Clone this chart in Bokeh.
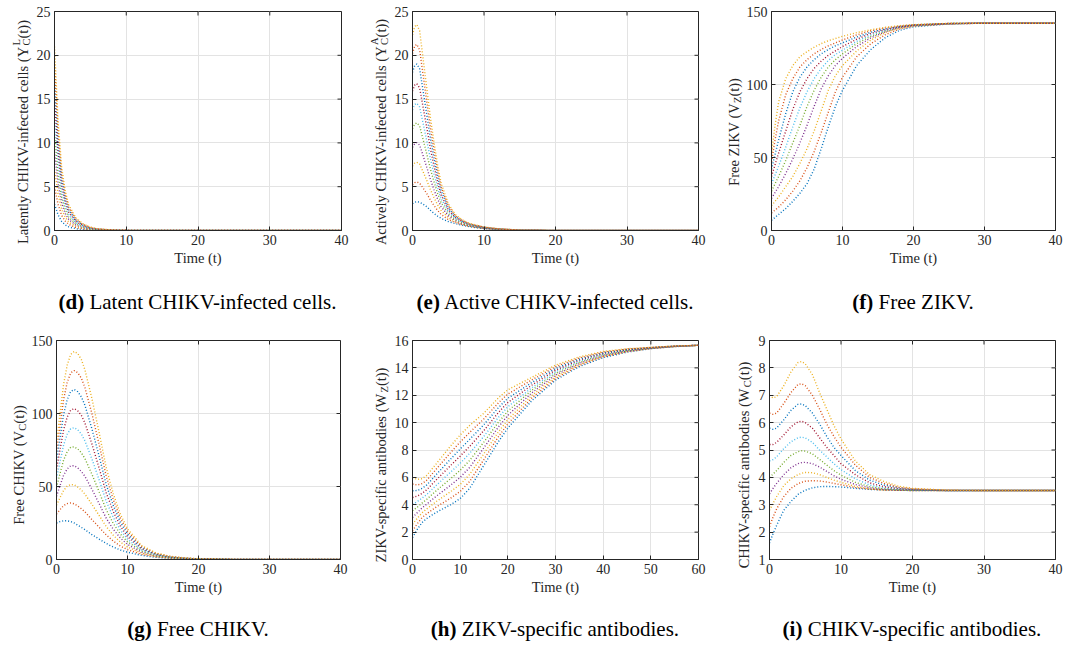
import math
from bokeh.plotting import figure
from bokeh.models import Range1d, FixedTicker, Div
from bokeh.layouts import column, row
from bokeh.core.properties import value
from bokeh.embed import file_html
from bokeh.resources import INLINE

COLORS = ["#0072BD", "#D95319", "#EDB120", "#7E2F8E", "#77AC30",
          "#4DBEEE", "#A2142F", "#0072BD", "#D95319", "#EDB120"]

# ---------------- data ----------------
# (d) latently CHIKV-infected cells
t_d = [0, 0.5, 1, 1.5, 2, 3, 4, 5, 6, 8, 10, 20, 30, 40]
latent = [
    [3, 1.79, 1.03, 0.64, 0.41, 0.20, 0.11, 0.05, 0.03, 0.01, 0, 0, 0, 0],
    [5, 2.98, 1.72, 1.07, 0.69, 0.34, 0.18, 0.09, 0.05, 0.02, 0.01, 0, 0, 0],
    [7, 4.17, 2.40, 1.50, 0.97, 0.47, 0.25, 0.13, 0.07, 0.02, 0.01, 0, 0, 0],
    [9, 5.36, 3.09, 1.93, 1.24, 0.60, 0.32, 0.16, 0.09, 0.03, 0.01, 0, 0, 0],
    [11, 6.55, 3.77, 2.35, 1.52, 0.74, 0.40, 0.20, 0.10, 0.03, 0.01, 0, 0, 0],
    [13, 7.74, 4.46, 2.78, 1.79, 0.87, 0.47, 0.23, 0.12, 0.04, 0.01, 0, 0, 0],
    [15, 8.93, 5.15, 3.21, 2.07, 1.01, 0.54, 0.27, 0.14, 0.05, 0.02, 0, 0, 0],
    [17, 10.1, 5.83, 3.64, 2.35, 1.14, 0.61, 0.31, 0.16, 0.05, 0.02, 0, 0, 0],
    [19, 11.3, 6.52, 4.07, 2.62, 1.27, 0.68, 0.34, 0.18, 0.06, 0.02, 0, 0, 0],
    [21, 12.5, 7.20, 4.49, 2.90, 1.41, 0.76, 0.38, 0.20, 0.06, 0.02, 0, 0, 0],
]

# (e) actively CHIKV-infected cells
t_e = [0, 0.3, 0.6, 1, 1.5, 2, 2.5, 3, 3.5, 4, 5, 6, 7, 8, 10, 12, 15, 20, 30, 40]
active = [
    [3.07, 3.23, 3.3, 3.23, 3.0, 2.71, 2.31, 1.95, 1.65, 1.39, 1.02, 0.79, 0.59, 0.43, 0.21, 0.1, 0.03, 0.01, 0, 0],
    [5.21, 5.46, 5.54, 5.4, 4.83, 4.21, 3.49, 2.86, 2.3, 1.84, 1.25, 0.9, 0.66, 0.47, 0.23, 0.11, 0.03, 0.01, 0, 0],
    [7.35, 7.68, 7.79, 7.58, 6.67, 5.71, 4.67, 3.76, 2.95, 2.28, 1.47, 1.02, 0.73, 0.51, 0.25, 0.12, 0.03, 0.01, 0, 0],
    [9.49, 9.91, 10.03, 9.75, 8.5, 7.21, 5.85, 4.67, 3.61, 2.73, 1.7, 1.13, 0.79, 0.55, 0.27, 0.13, 0.04, 0.01, 0, 0],
    [11.63, 12.14, 12.28, 11.93, 10.34, 8.71, 7.03, 5.58, 4.26, 3.18, 1.93, 1.24, 0.86, 0.59, 0.29, 0.14, 0.04, 0.01, 0, 0],
    [13.77, 14.37, 14.52, 14.1, 12.17, 10.22, 8.21, 6.49, 4.91, 3.63, 2.16, 1.36, 0.93, 0.64, 0.31, 0.16, 0.04, 0.01, 0, 0],
    [15.91, 16.59, 16.76, 16.27, 14.0, 11.72, 9.39, 7.39, 5.56, 4.07, 2.38, 1.47, 1.0, 0.68, 0.34, 0.17, 0.04, 0.01, 0, 0],
    [18.05, 18.82, 19.01, 18.45, 15.84, 13.22, 10.57, 8.3, 6.21, 4.52, 2.61, 1.58, 1.07, 0.72, 0.36, 0.18, 0.05, 0.01, 0, 0],
    [20.19, 21.05, 21.25, 20.62, 17.67, 14.72, 11.75, 9.21, 6.87, 4.97, 2.84, 1.69, 1.13, 0.76, 0.38, 0.19, 0.05, 0.01, 0, 0],
    [22.33, 23.27, 23.5, 22.8, 19.51, 16.22, 12.93, 10.11, 7.52, 5.41, 3.06, 1.81, 1.2, 0.8, 0.4, 0.2, 0.05, 0.01, 0, 0],
]

# (f) free ZIKV
t_f = [0, 0.5, 1, 2, 3, 4, 5, 6, 7, 8, 9, 10, 12, 14, 16, 18, 20, 25, 30, 40]
zikv = [
    [7, 9, 11, 15, 20, 25.5, 32, 42, 56, 71, 85, 96, 113, 124, 132, 137, 139.5, 141.5, 142, 142],
    [12, 14, 16, 21, 27, 34, 43, 54, 67, 81, 95, 105, 119, 128, 134, 138, 140, 141.5, 142, 142],
    [17, 20, 23, 30, 37, 46, 56, 68, 82, 96, 106, 113, 123, 130.5, 135.5, 138.5, 140.2, 141.6, 142, 142],
    [22, 26, 30, 39, 49, 60, 72, 85, 97, 106, 113, 118, 126, 132, 136, 139, 140.4, 141.6, 142, 142],
    [27, 32, 37, 48, 60, 72, 85, 96, 105, 112, 117, 121, 128, 133, 136.5, 139.2, 140.5, 141.7, 142, 142],
    [32, 38, 44, 57, 71, 84, 95, 104, 111, 116.5, 120.5, 123.5, 129.5, 134, 137, 139.4, 140.6, 141.7, 142, 142],
    [37, 45, 53, 68, 83, 95, 104, 111, 116, 120, 123, 126, 131, 135, 137.5, 139.6, 140.7, 141.8, 142, 142],
    [42, 52, 62, 80, 95, 105, 112, 117, 121, 124, 126.5, 128.5, 132.5, 135.8, 138, 139.8, 140.8, 141.8, 142, 142],
    [47, 62, 75, 93, 104, 112, 117, 121, 124, 126.5, 128.5, 130.5, 134, 136.8, 138.7, 140, 140.9, 141.8, 142, 142],
    [52, 72, 88, 104, 113, 119, 122.5, 125.5, 128, 130, 131.5, 133, 135.5, 137.5, 139.2, 140.3, 141, 141.9, 142, 142],
]

# (g) free CHIKV
t_g = [0, 0.5, 1, 1.5, 2, 2.5, 3, 3.5, 4, 5, 6, 7, 8, 9, 10, 12, 14, 16, 18, 20, 25, 30, 40]
chikv = [
    [25, 26, 26.5, 26.5, 26, 25, 23.5, 22, 20.5, 17, 14, 11, 8.5, 6.5, 5, 2.8, 1.5, 0.8, 0.4, 0.2, 0.03, 0, 0],
    [31.1, 34.2, 36.9, 38.3, 38.7, 38.1, 36.6, 34.8, 32.7, 27.3, 22.1, 16.8, 12.6, 9.2, 6.8, 3.5, 1.8, 0.96, 0.48, 0.23, 0.04, 0, 0],
    [37.2, 42.4, 47.3, 50.2, 51.4, 51.1, 49.6, 47.6, 44.8, 37.7, 30.2, 22.6, 16.6, 11.9, 8.6, 4.3, 2.2, 1.1, 0.56, 0.27, 0.05, 0, 0],
    [43.3, 50.7, 57.7, 62.0, 64.2, 64.2, 62.7, 60.3, 57.0, 48.0, 38.3, 28.3, 20.7, 14.7, 10.3, 5.0, 2.5, 1.27, 0.63, 0.3, 0.05, 0, 0],
    [49.4, 58.9, 68.1, 73.8, 76.9, 77.2, 75.7, 73.1, 69.2, 58.3, 46.4, 34.1, 24.7, 17.4, 12.1, 5.8, 2.8, 1.42, 0.71, 0.33, 0.06, 0, 0],
    [55.6, 67.1, 78.4, 85.7, 89.6, 90.3, 88.8, 85.9, 81.3, 68.7, 54.6, 39.9, 28.8, 20.1, 13.9, 6.5, 3.2, 1.58, 0.79, 0.37, 0.07, 0, 0],
    [61.7, 75.3, 88.8, 97.5, 102.3, 103.3, 101.8, 98.7, 93.5, 79.0, 62.7, 45.7, 32.8, 22.8, 15.7, 7.3, 3.5, 1.73, 0.87, 0.4, 0.08, 0, 0],
    [67.8, 83.6, 99.2, 109.3, 115.1, 116.4, 114.9, 111.4, 105.7, 89.3, 70.8, 51.4, 36.9, 25.6, 17.4, 8.0, 3.8, 1.89, 0.94, 0.43, 0.09, 0, 0],
    [73.9, 91.8, 109.6, 121.2, 127.8, 129.4, 127.9, 124.2, 117.8, 99.7, 78.9, 57.2, 40.9, 28.3, 19.2, 8.8, 4.2, 2.04, 1.02, 0.47, 0.09, 0, 0],
    [80, 100, 120, 133, 140.5, 142.5, 141, 137, 130, 110, 87, 63, 45, 31, 21, 9.5, 4.5, 2.2, 1.1, 0.5, 0.1, 0, 0],
]

# (h) ZIKV-specific antibodies
t_h = [0, 1, 2, 3, 5, 8, 10, 12, 15, 18, 20, 25, 30, 35, 40, 45, 50, 55, 60]
ab_zikv = [
    [1.6, 2.2, 2.7, 3.0, 3.45, 4.0, 4.45, 5.2, 6.9, 8.6, 9.6, 11.6, 13.1, 14.1, 14.75, 15.15, 15.4, 15.55, 15.65],
    [2.09, 2.61, 3.06, 3.35, 3.84, 4.48, 4.97, 5.71, 7.32, 8.96, 9.91, 11.79, 13.22, 14.18, 14.8, 15.18, 15.41, 15.56, 15.65],
    [2.58, 3.01, 3.41, 3.7, 4.24, 4.96, 5.48, 6.22, 7.74, 9.31, 10.22, 11.98, 13.34, 14.26, 14.85, 15.21, 15.42, 15.56, 15.65],
    [3.07, 3.42, 3.77, 4.05, 4.63, 5.43, 6.0, 6.73, 8.17, 9.67, 10.53, 12.17, 13.47, 14.33, 14.9, 15.23, 15.43, 15.57, 15.65],
    [3.56, 3.82, 4.12, 4.4, 5.03, 5.91, 6.52, 7.24, 8.59, 10.02, 10.84, 12.36, 13.59, 14.41, 14.95, 15.26, 15.44, 15.57, 15.65],
    [4.04, 4.23, 4.48, 4.75, 5.42, 6.39, 7.03, 7.76, 9.01, 10.38, 11.16, 12.54, 13.71, 14.49, 15.0, 15.29, 15.46, 15.58, 15.65],
    [4.53, 4.63, 4.83, 5.1, 5.82, 6.87, 7.55, 8.27, 9.43, 10.73, 11.47, 12.73, 13.83, 14.57, 15.05, 15.32, 15.47, 15.58, 15.65],
    [5.02, 5.04, 5.19, 5.45, 6.21, 7.34, 8.07, 8.78, 9.86, 11.09, 11.78, 12.92, 13.96, 14.64, 15.1, 15.34, 15.48, 15.59, 15.65],
    [5.51, 5.44, 5.54, 5.8, 6.61, 7.82, 8.58, 9.29, 10.28, 11.44, 12.09, 13.11, 14.08, 14.72, 15.15, 15.37, 15.49, 15.59, 15.65],
    [6.0, 5.85, 5.9, 6.15, 7.0, 8.3, 9.1, 9.8, 10.7, 11.8, 12.4, 13.3, 14.2, 14.8, 15.2, 15.4, 15.5, 15.6, 15.65],
]

# (i) CHIKV-specific antibodies
t_i = [0, 0.5, 1, 2, 3, 4, 4.5, 5, 6, 7, 8, 9, 10, 12, 14, 16, 18, 20, 25, 30, 40]
ab_chikv = [
    [1.6, 1.95, 2.25, 2.8, 3.12, 3.38, 3.46, 3.53, 3.62, 3.66, 3.67, 3.66, 3.65, 3.6, 3.56, 3.54, 3.53, 3.52, 3.52, 3.52, 3.52],
    [2.2, 2.55, 2.85, 3.3, 3.6, 3.77, 3.82, 3.86, 3.88, 3.87, 3.83, 3.78, 3.73, 3.63, 3.57, 3.54, 3.53, 3.52, 3.52, 3.52, 3.52],
    [2.8, 3.05, 3.3, 3.7, 3.95, 4.1, 4.15, 4.18, 4.17, 4.1, 4.0, 3.9, 3.82, 3.67, 3.58, 3.54, 3.53, 3.52, 3.52, 3.52, 3.52],
    [3.4, 3.6, 3.78, 4.1, 4.35, 4.5, 4.54, 4.55, 4.5, 4.38, 4.22, 4.06, 3.93, 3.74, 3.62, 3.56, 3.54, 3.53, 3.52, 3.52, 3.52],
    [4.0, 4.12, 4.25, 4.55, 4.8, 4.94, 4.97, 4.96, 4.86, 4.66, 4.45, 4.25, 4.08, 3.82, 3.66, 3.58, 3.55, 3.53, 3.52, 3.52, 3.52],
    [4.6, 4.65, 4.75, 5.05, 5.3, 5.45, 5.47, 5.44, 5.28, 5.0, 4.75, 4.5, 4.28, 3.95, 3.72, 3.62, 3.57, 3.54, 3.52, 3.52, 3.52],
    [5.2, 5.2, 5.28, 5.55, 5.85, 6.03, 6.05, 6.0, 5.8, 5.45, 5.1, 4.8, 4.5, 4.1, 3.8, 3.66, 3.59, 3.55, 3.52, 3.52, 3.52],
    [5.8, 5.75, 5.8, 6.1, 6.45, 6.67, 6.68, 6.62, 6.35, 5.95, 5.5, 5.1, 4.8, 4.25, 3.9, 3.72, 3.62, 3.56, 3.52, 3.52, 3.52],
    [6.35, 6.3, 6.35, 6.7, 7.1, 7.4, 7.42, 7.35, 7.0, 6.5, 5.95, 5.5, 5.1, 4.45, 4.0, 3.78, 3.64, 3.58, 3.53, 3.52, 3.52],
    [7.0, 6.9, 6.95, 7.35, 7.85, 8.2, 8.23, 8.15, 7.75, 7.1, 6.5, 5.9, 5.4, 4.6, 4.1, 3.85, 3.68, 3.6, 3.53, 3.52, 3.52],
]

x_ticks_40 = [0, 10, 20, 30, 40]
x_ticks_60 = [0, 10, 20, 30, 40, 50, 60]
y_ticks_25 = [0, 5, 10, 15, 20, 25]
y_ticks_150 = [0, 50, 100, 150]
y_ticks_16 = [0, 2, 4, 6, 8, 10, 12, 14, 16]
y_ticks_9 = [1, 2, 3, 4, 5, 6, 7, 8, 9]

# ---------------- styling helpers ----------------
FONT = "Liberation Serif"
TXT = "#262626"
AX = "#262626"
TICK_SIZE = "14px"
LAB_SIZE = 14.5
SMALL_SIZE = 10.5
TICK_LEN = 4
CELL_W = 355

CW = {' ': 250, '(': 333, ')': 333, '-': 333, '.': 250,
      'A': 722, 'C': 667, 'F': 556, 'H': 722, 'I': 333, 'K': 722, 'L': 611,
      'T': 611, 'V': 722, 'W': 944, 'Y': 722, 'Z': 611,
      'a': 444, 'b': 500, 'c': 444, 'd': 500, 'e': 444, 'f': 333, 'i': 278,
      'l': 278, 'm': 778, 'n': 500, 'o': 500, 'p': 500, 'r': 333, 's': 389,
      't': 278, 'v': 500, 'y': 500}


def tw(s, size):
    return sum(CW.get(ch, 500) for ch in s) * size / 1000.0


def make_fig(xr, yr, xt, yt, width, height, lb, rb, tb, bb, fw, fh):
    p = figure(x_range=Range1d(*xr), y_range=Range1d(*yr),
               width=width, height=height,
               min_border_left=lb, min_border_right=rb,
               min_border_top=tb, min_border_bottom=bb,
               output_backend="svg", toolbar_location=None,
               background_fill_color="white", border_fill_color="white")
    p.outline_line_color = AX
    p.outline_line_width = 1
    p.xaxis.ticker = FixedTicker(ticks=xt)
    p.yaxis.ticker = FixedTicker(ticks=yt)
    for ax in (p.xaxis[0], p.yaxis[0]):
        ax.major_tick_in = TICK_LEN
        ax.major_tick_out = 0
        ax.minor_tick_in = 0
        ax.minor_tick_out = 0
        ax.axis_line_color = AX
        ax.major_tick_line_color = AX
        ax.major_label_text_font = FONT
        ax.major_label_text_font_size = TICK_SIZE
        ax.major_label_text_color = TXT
        ax.major_label_standoff = 4
    p.xaxis.axis_label = "Time (t)"
    p.xaxis.axis_label_text_font = FONT
    p.xaxis.axis_label_text_font_style = "normal"
    p.xaxis.axis_label_text_font_size = f"{LAB_SIZE}px"
    p.xaxis.axis_label_text_color = TXT
    p.xaxis.axis_label_standoff = 2
    p.grid.grid_line_color = "#e3e3e3"
    p.grid.grid_line_width = 1
    p.xgrid.ticker = FixedTicker(ticks=xt)
    p.ygrid.ticker = FixedTicker(ticks=yt)
    # inward ticks on the top and right edges of the box
    kx = (xr[1] - xr[0]) / fw
    ky = (yr[1] - yr[0]) / fh
    p.segment(x0=xt, x1=xt, y0=[yr[1]] * len(xt), y1=[yr[1] - TICK_LEN * ky] * len(xt),
              line_color=AX, line_width=1)
    p.segment(x0=[xr[1]] * len(yt), x1=[xr[1] - TICK_LEN * kx] * len(yt), y0=yt, y1=yt,
              line_color=AX, line_width=1)
    return p


def label_fig(segs, lw, h, cx, cy):
    lf = figure(x_range=Range1d(0, lw), y_range=Range1d(0, h),
                frame_width=lw, frame_height=h, min_border=0,
                x_axis_type=None, y_axis_type=None,
                output_backend="svg", toolbar_location=None,
                background_fill_color="white", border_fill_color="white")
    lf.outline_line_color = None
    total = 0.0
    for txt, sub, sup in segs:
        total += tw(txt, LAB_SIZE)
        total += max(tw(sub or "", SMALL_SIZE), tw(sup or "", SMALL_SIZE))
    s = cy - total / 2.0
    base = cx + 0.33 * LAB_SIZE

    def put(text, pos, bx, fs):
        lf.text(x=[bx], y=[pos], text=[text], angle=math.pi / 2,
                text_align="left", text_baseline="alphabetic",
                text_font=value(FONT), text_font_size=value(f"{fs}px"),
                text_color=TXT)

    for txt, sub, sup in segs:
        put(txt, s, base, LAB_SIZE)
        s += tw(txt, LAB_SIZE)
        extra = 0.0
        if sub:
            put(sub, s, base + 0.2 * LAB_SIZE, SMALL_SIZE)
            extra = tw(sub, SMALL_SIZE)
        if sup:
            put(sup, s, base - 0.45 * LAB_SIZE, SMALL_SIZE)
            extra = max(extra, tw(sup, SMALL_SIZE))
        s += extra
    return lf


def draw(p, t, series):
    for i, vals in enumerate(series):
        p.line(t, vals, line_color=COLORS[i], line_width=1.4, line_dash="1 2")


def caption(bold, rest, lb, fw, pad, h):
    html = (f'<div style="margin-left:{lb}px;width:{fw}px;text-align:center;'
            f'font-family:\'Liberation Serif\';font-size:21px;color:#000;'
            f'padding-top:{pad}px;line-height:22px;white-space:nowrap;">'
            f'<b>{bold}</b> {rest}</div>')
    return Div(text=html, width=CELL_W, height=h, margin=0)


FH = 219
BB = 50
panels = [
    # name, t, series, xr, yr, xt, yt, frame left, right border, top border, label,
    # label centre offset from the frame, width of the tick-label border
    ("d", t_d, latent, (0, 40), (0, 25), x_ticks_40, y_ticks_25, 54, 14, 11,
     [("Latently CHIKV-infected cells (Y", "C", "L"), ("(t))", None, None)], 36, 22),
    ("e", t_e, active, (0, 40), (0, 25), x_ticks_40, y_ticks_25, 57, 12, 11,
     [("Actively CHIKV-infected cells (Y", "C", "A"), ("(t))", None, None)], 36, 22),
    ("f", t_f, zikv, (0, 40), (0, 150), x_ticks_40, y_ticks_150, 61, 10, 11,
     [("Free ZIKV (V", "Z", None), ("(t))", None, None)], 42, 28),
    ("g", t_g, chikv, (0, 40), (0, 150), x_ticks_40, y_ticks_150, 56, 15, 15,
     [("Free CHIKV (V", "C", None), ("(t))", None, None)], 42, 28),
    ("h", t_h, ab_zikv, (0, 60), (0, 16), x_ticks_60, y_ticks_16, 57, 12, 15,
     [("ZIKV-specific antibodies (W", "Z", None), ("(t))", None, None)], 36, 22),
    ("i", t_i, ab_chikv, (0, 40), (1, 9), x_ticks_40, y_ticks_9, 59, 10, 15,
     [("CHIKV-specific antibodies (W", "C", None), ("(t))", None, None)], 30, 16),
]

caps = {
    "d": ("(d)", "Latent CHIKV-infected cells."),
    "e": ("(e)", "Active CHIKV-infected cells."),
    "f": ("(f)", "Free ZIKV."),
    "g": ("(g)", "Free CHIKV."),
    "h": ("(h)", "ZIKV-specific antibodies."),
    "i": ("(i)", "CHIKV-specific antibodies."),
}

cells = {}
divs = {}
for name, t, series, xr, yr, xt, yt, lb, rb, tb, segs, xoff, tick_border in panels:
    lw = lb - tick_border
    fw = CELL_W - lb - rb
    h = tb + FH + BB
    p = make_fig(xr, yr, xt, yt, CELL_W - lw, h, tick_border, rb, tb, BB, fw, FH)
    draw(p, t, series)
    lf = label_fig(segs, lw, h, lb - xoff, BB + FH / 2.0)
    cells[name] = row(lf, p)
    if name in "def":
        divs[name] = caption(caps[name][0], caps[name][1], lb, fw, 11, 45)
    else:
        divs[name] = caption(caps[name][0], caps[name][1], lb, fw, 9, 41)

layout = column(
    row(cells["d"], cells["e"], cells["f"]),
    row(divs["d"], divs["e"], divs["f"]),
    row(cells["g"], cells["h"], cells["i"]),
    row(divs["g"], divs["h"], divs["i"]),
)

open("out.html", "w").write(file_html(layout, INLINE))
